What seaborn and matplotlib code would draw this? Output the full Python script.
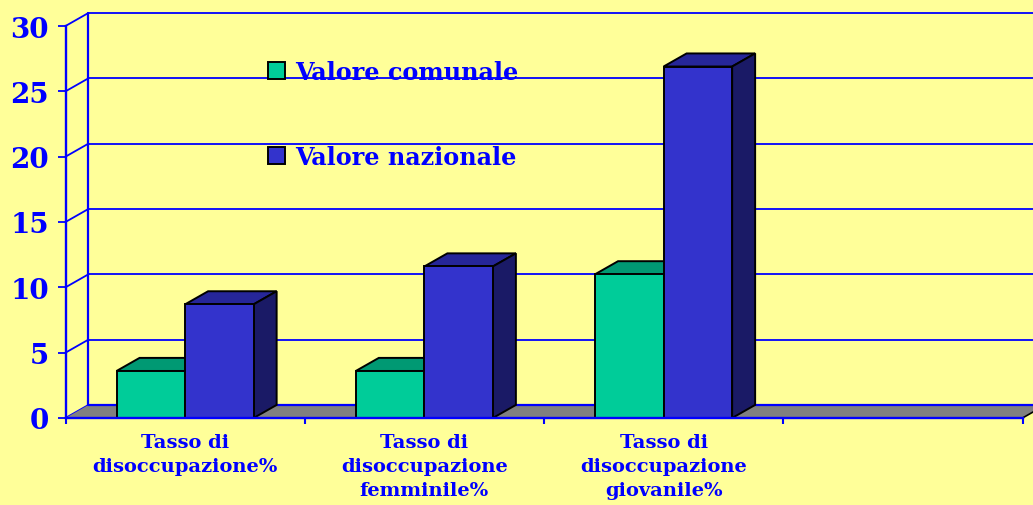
import numpy as np
import pandas as pd
import matplotlib
matplotlib.use('Agg')
import matplotlib.pyplot as plt
from matplotlib.patches import Polygon
import seaborn as sns

categories = ['Tasso di\ndisoccupazione%', 'Tasso di\ndisoccupazione\nfemminile%',
              'Tasso di\ndisoccupazione\ngiovanile%', ' ']
comunale = [3.6, 3.6, 11.0, np.nan]
nazionale = [8.7, 11.6, 26.9, np.nan]
y_ticks = [0, 5, 10, 15, 20, 25, 30]

BG = '#FFFF99'
BLUE = '#0000FF'
DX = 0.096   # depth of the fake 3d, in x data units
DY = 1.0     # same for y

sns.set_theme(style='white')
# the original type is a stretched Times, DejaVu Serif has about the same proportions
plt.rcParams['font.family'] = ['DejaVu Serif']
plt.rcParams['font.weight'] = 'bold'

df = pd.DataFrame({
    'categoria': categories * 2,
    'serie': ['Valore comunale'] * 4 + ['Valore nazionale'] * 4,
    'valore': comunale + nazionale,
})

fig = plt.figure(figsize=(10.33, 5.06), dpi=100, facecolor=BG)
ax = fig.add_axes([65.5 / 1033, 87 / 506, 957 / 1033, 392 / 506], facecolor=BG)

sns.barplot(data=df, x='categoria', y='valore', hue='serie', order=categories,
            palette=['#00CC99', '#3333CC'], saturation=1, width=0.573, gap=0,
            edgecolor='black', linewidth=1.4, ax=ax, zorder=5)

ax.set_xlim(-0.5, 3.5)
ax.set_ylim(0, 30)
ax.set_xlabel('')
ax.set_ylabel('')

# back wall, side wall and floor
x0, x1 = ax.get_xlim()
for y in y_ticks:
    ax.plot([x0, x0 + DX], [y, y + DY], color=BLUE, lw=1.3, clip_on=False, zorder=2)
    ax.plot([x0 + DX, x1 + DX], [y + DY, y + DY], color=BLUE, lw=1.3, clip_on=False, zorder=2)
ax.plot([x0 + DX, x0 + DX], [DY, 30 + DY], color=BLUE, lw=1.6, clip_on=False, zorder=2)
ax.add_patch(Polygon([(x0, 0), (x0 + DX, DY), (x1 + DX, DY), (x1, 0)], closed=True,
                     facecolor='#808080', edgecolor='none', clip_on=False, zorder=3))
ax.plot([x0 + DX, x1 + DX], [DY, DY], color=BLUE, lw=1.6, clip_on=False, zorder=3)
ax.plot([x1, x1 + DX], [0, DY], color='black', lw=1.2, clip_on=False, zorder=3)

# top and side faces of the bars
shades = [('#009973', '#00664D'), ('#262699', '#1A1A66')]
for cont, (top, side) in zip(ax.containers, shades):
    for bar in cont:
        h = bar.get_height()
        if not np.isfinite(h) or h == 0:
            continue
        l = bar.get_x()
        r = l + bar.get_width()
        ax.add_patch(Polygon([(l, h), (l + DX, h + DY), (r + DX, h + DY), (r, h)], closed=True,
                             facecolor=top, edgecolor='black', lw=1.4, clip_on=False, zorder=4))
        ax.add_patch(Polygon([(r, 0), (r + DX, DY), (r + DX, h + DY), (r, h)], closed=True,
                             facecolor=side, edgecolor='black', lw=1.4, clip_on=False, zorder=4))

sns.despine(ax=ax, top=True, right=True)
for s in ['left', 'bottom']:
    ax.spines[s].set_color(BLUE)
    ax.spines[s].set_linewidth(1.7)
    ax.spines[s].set_zorder(6)

ax.set_yticks(y_ticks)
ax.tick_params(axis='y', length=6, width=1.3, color=BLUE, pad=6, left=True,
               labelsize=20, labelcolor=BLUE)

# ticks sit between the groups, labels in the middle of them
ax.set_xticks(np.arange(x0, x1 + 1))
ax.set_xticklabels([])
ax.set_xticks(range(len(categories)), labels=categories, minor=True)
ax.tick_params(axis='x', which='major', length=4.5, width=1.5, color=BLUE, bottom=True)
ax.tick_params(axis='x', which='minor', length=0, pad=11, labelsize=14, labelcolor=BLUE)
for t in ax.get_xticklabels(minor=True):
    t.set_linespacing(1.43)

sns.move_legend(ax, 'upper left', bbox_to_anchor=(268 / 1033, 1 - 61 / 506),
                bbox_transform=fig.transFigure, frameon=False, title=None, ncol=1,
                fontsize=17.2, labelcolor=BLUE, handlelength=0.71, handleheight=0.71,
                handletextpad=0.42, labelspacing=2.54, borderpad=0, borderaxespad=0)
ax.get_legend().set_zorder(10)

fig.savefig('out.png', dpi=100, facecolor=BG)
